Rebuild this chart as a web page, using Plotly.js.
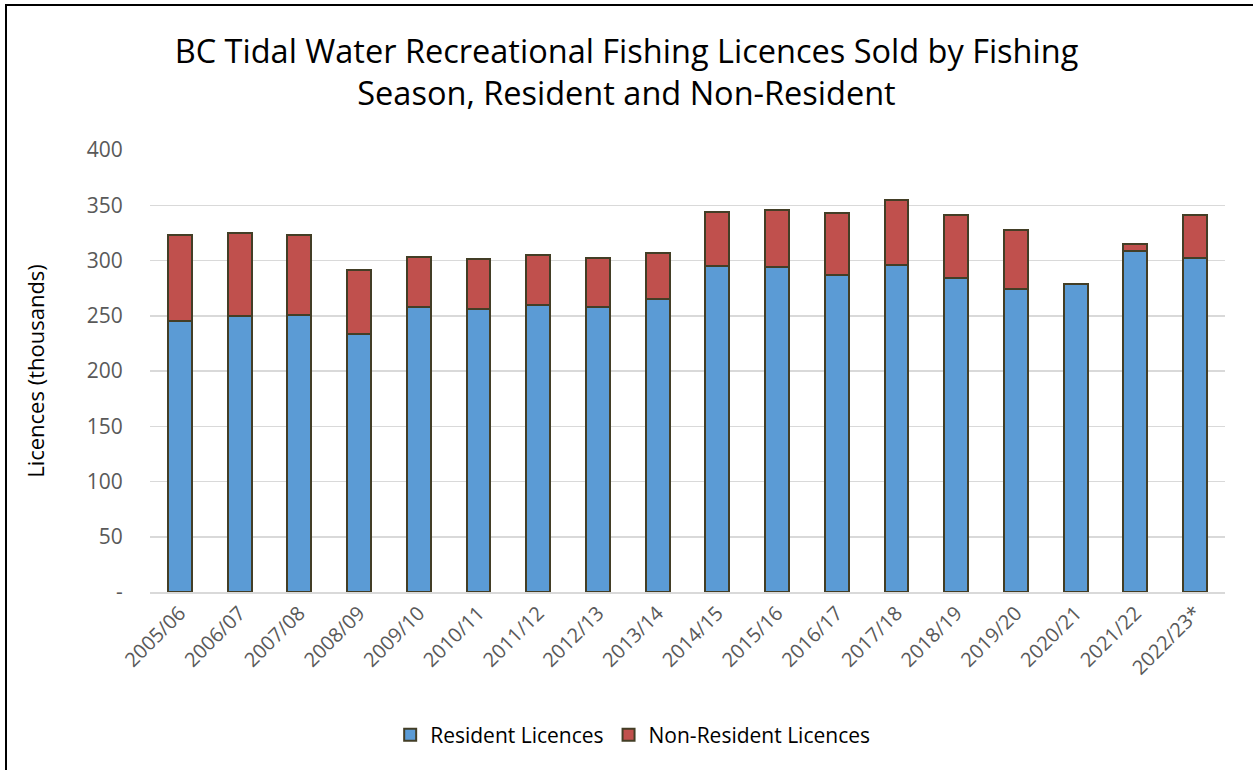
<!DOCTYPE html>
<html>
<head>
<meta charset="utf-8">
<script src="https://cdn.plot.ly/plotly-3.0.1.min.js"></script>
<style>
html,body{margin:0;padding:0;background:#fff;}
#wrap{position:relative;width:1253px;height:770px;overflow:hidden;}
#chart{position:absolute;left:0;top:0;width:1253px;height:770px;}
#frame{position:absolute;left:5px;top:4px;width:1300px;height:800px;border-left:2px solid #000;border-top:2px solid #000;pointer-events:none;}
</style>
</head>
<body>
<div id="wrap"><div id="chart"></div><div id="frame"></div></div>
<script>
const seasons = ["2005/06","2006/07","2007/08","2008/09","2009/10","2010/11","2011/12","2012/13","2013/14","2014/15","2015/16","2016/17","2017/18","2018/19","2019/20","2020/21","2021/22","2022/23*"];
const resident = [245, 250, 250.6, 233.7, 257.5, 255.7, 259.6, 258, 265.6, 294.6, 293.7, 286.5, 296, 284.6, 273.8, 278.6, 308.2, 302.4];
const nonResident = [78, 74.5, 72.4, 57.3, 45.8, 45.8, 45.4, 44.7, 41.6, 49.4, 52.1, 56.5, 58.6, 56.4, 54.2, 0, 6.8, 38.6];
const yTickVals = [0, 50, 100, 150, 200, 250, 300, 350, 400];
const yTickText = ["-", "50", "100", "150", "200", "250", "300", "350", "400"];

const outline = {color: "#433E26", width: 2};
const traces = [
  {type: "bar", name: "Resident Licences", x: seasons, y: resident,
   marker: {color: "#5B9BD5", line: outline}},
  {type: "bar", name: "Non-Resident Licences", x: seasons, y: nonResident,
   marker: {color: "#C0504D", line: outline}}
];
const layout = {
  width: 1253, height: 770,
  barmode: "stack", bargap: 0.6,
  paper_bgcolor: "#fff", plot_bgcolor: "#fff",
  font: {family: "'Open Sans', sans-serif", color: "#595959"},
  margin: {l: 150, r: 28, t: 150, b: 178},
  title: {text: "BC Tidal Water Recreational Fishing Licences Sold by Fishing<br>Season, Resident and Non-Resident",
          font: {size: 32.5, color: "#000"}, x: 0.5, xanchor: "center", y: 0.918, yanchor: "middle", yref: "container"},
  xaxis: {type: "category", tickangle: -45, tickfont: {size: 20, color: "#595959"},
          showgrid: false, showline: true, linecolor: "#D9D9D9", linewidth: 1.5, ticks: ""},
  yaxis: {range: [0, 400], tickvals: yTickVals, ticktext: yTickText,
          tickfont: {size: 21, color: "#595959"}, gridcolor: "#D9D9D9", gridwidth: 1.5,
          zeroline: false, showline: false, ticks: "outside", ticklen: 22, tickcolor: "rgba(0,0,0,0)",
          title: {text: "Licences (thousands)", font: {size: 22, color: "#000"}, standoff: 36}},
  showlegend: true,
  legend: {orientation: "h", x: 0.449, xanchor: "center", y: -0.324, yanchor: "middle",
           font: {size: 21, color: "#000"}, traceorder: "normal"}
};
Plotly.newPlot("chart", traces, layout, {displayModeBar: false, staticPlot: true});
</script>
</body>
</html>
